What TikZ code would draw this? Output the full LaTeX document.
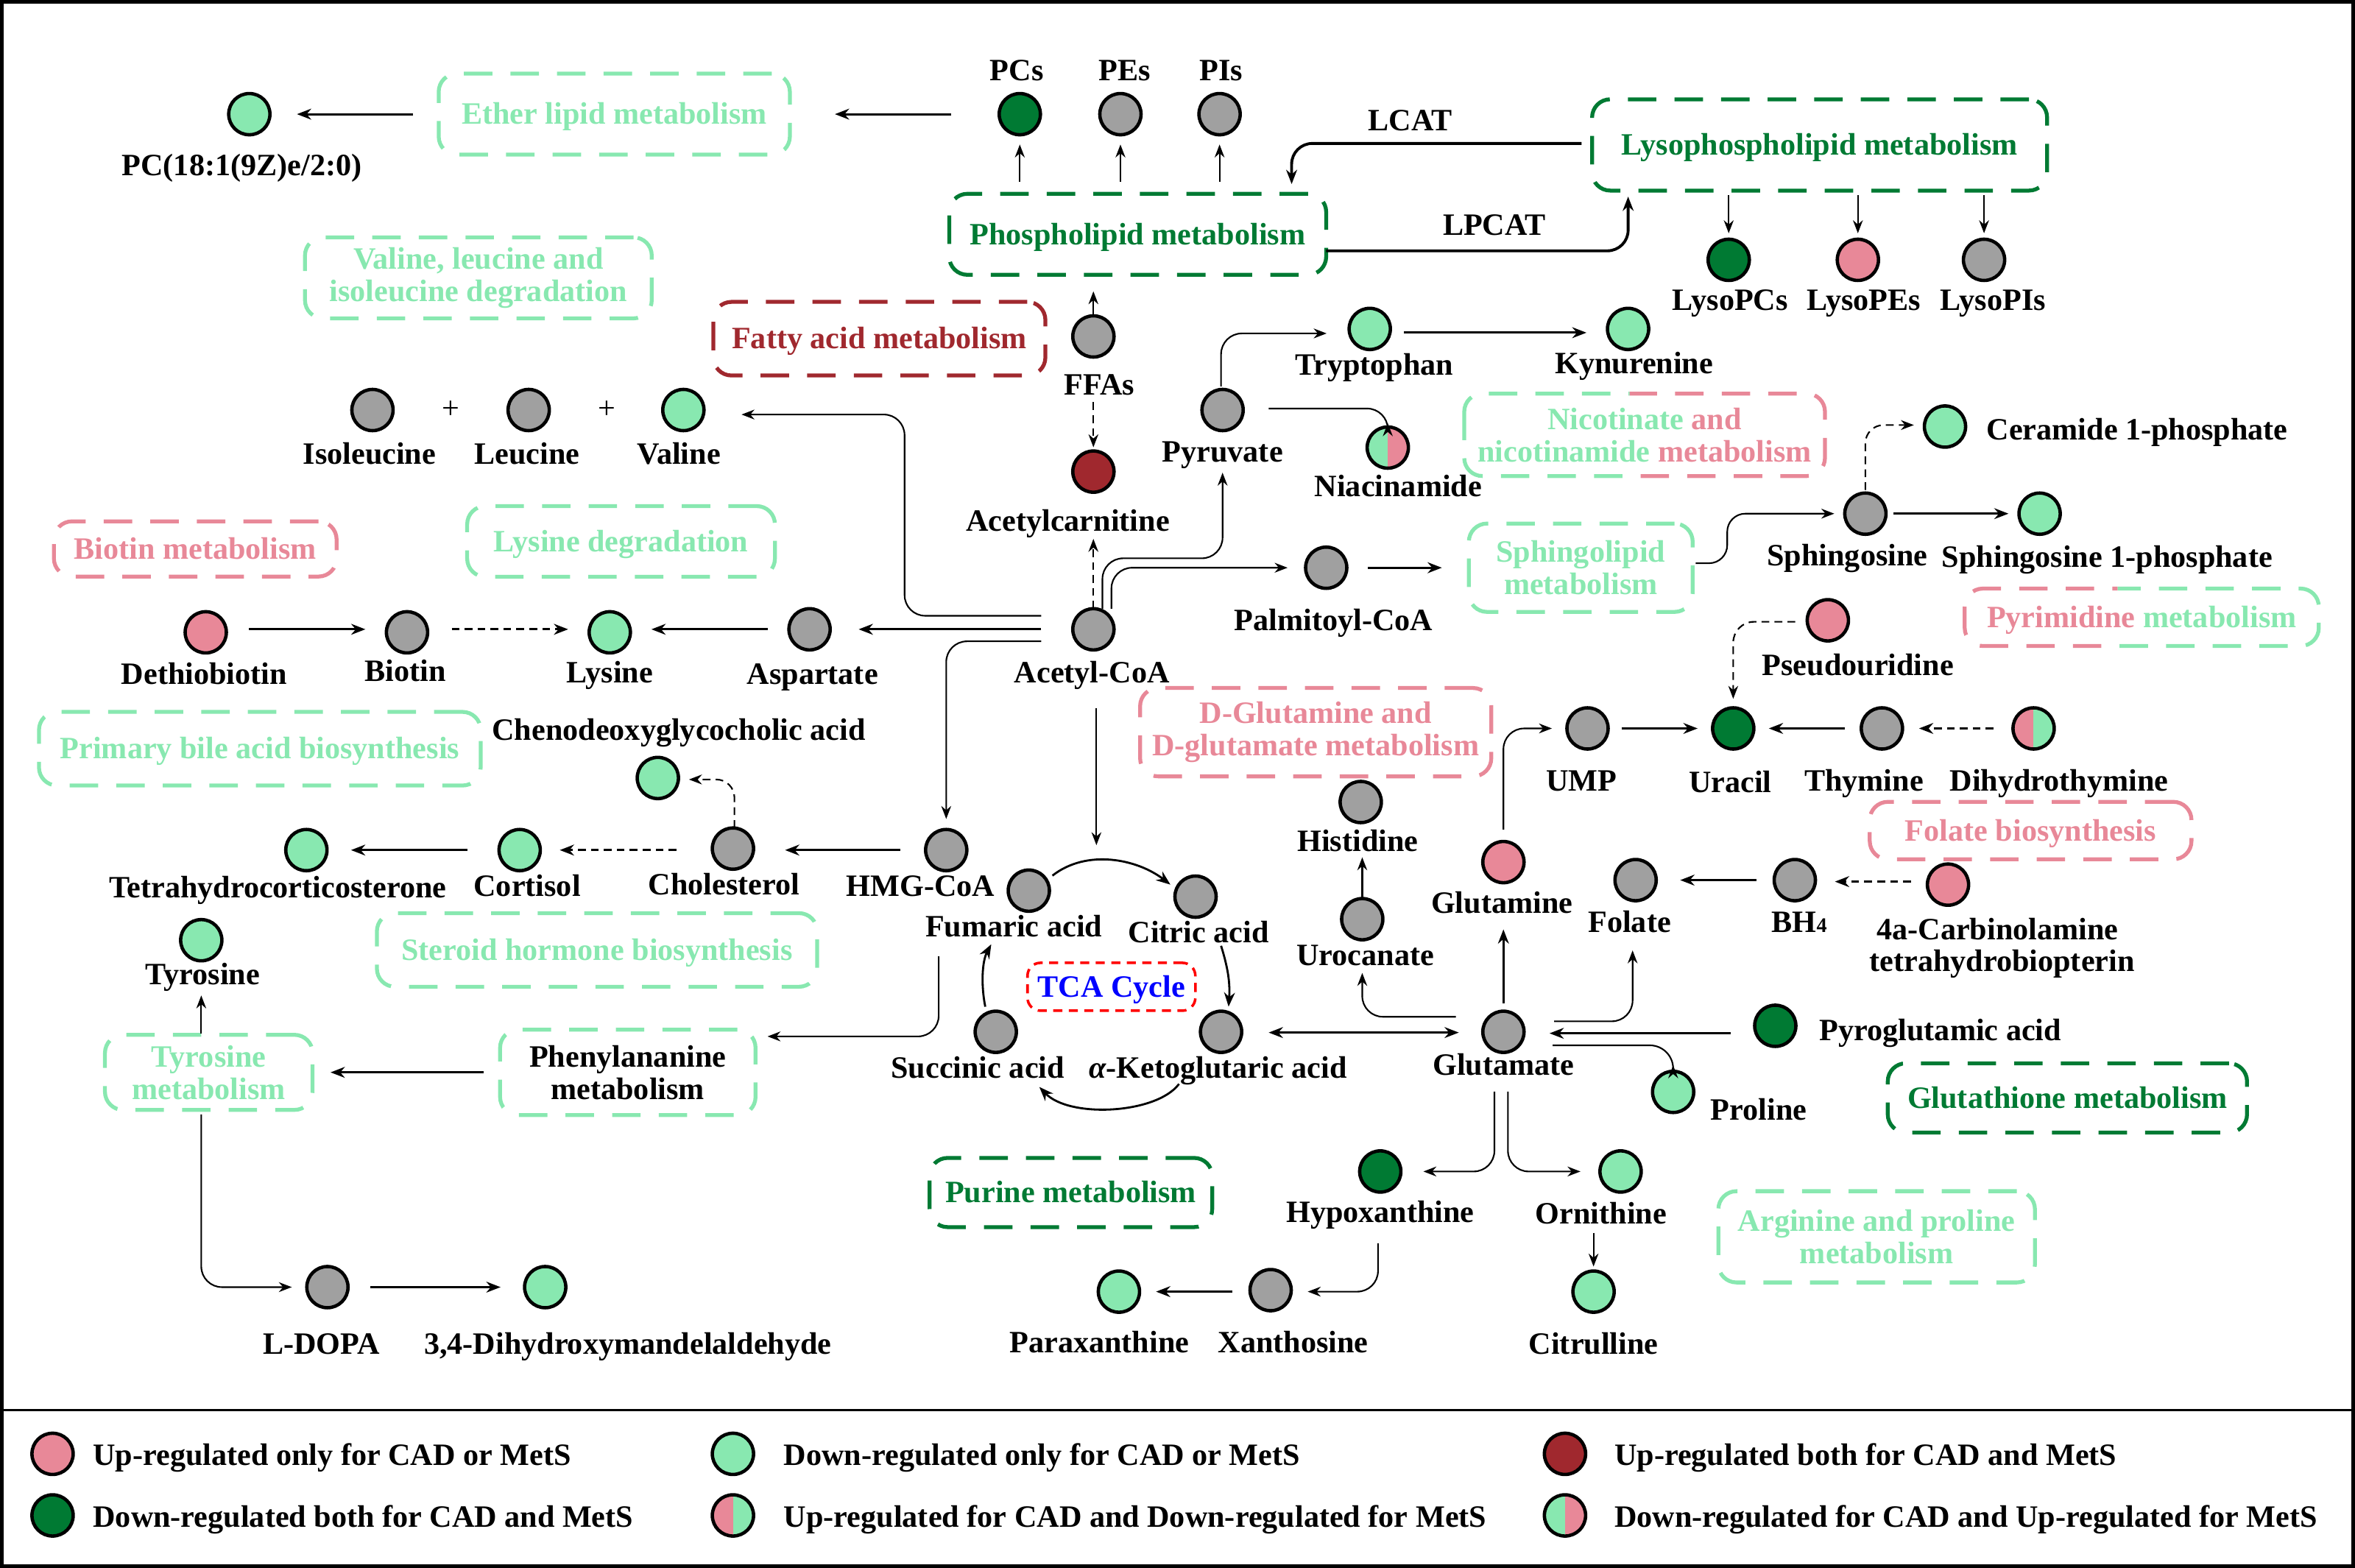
\documentclass[tikz,border=0pt]{standalone}
\usepackage{fontspec}
\setmainfont{Liberation Serif}
\usetikzlibrary{arrows.meta,calc}
\definecolor{lg}{RGB}{136,232,176}
\definecolor{dg}{RGB}{0,122,51}
\definecolor{pk}{RGB}{232,136,152}
\definecolor{dr}{RGB}{160,40,46}
\definecolor{gy}{RGB}{160,160,160}
\definecolor{tcared}{RGB}{255,0,0}
\definecolor{tcablue}{RGB}{0,0,255}
\begin{document}
\begin{tikzpicture}[x=0.0204cm, y=-0.0204cm,
  every node/.style={font=\fontsize{12}{12.5}\selectfont\bfseries},
  met/.style={circle, draw=black, line width=1.3pt, minimum size=0.56cm, inner sep=0pt, outer sep=0pt, fill=#1},
  half/.style 2 args={circle, draw=black, line width=1.3pt, minimum size=0.56cm, inner sep=0pt, outer sep=0pt, fill=#2,
     path picture={\fill[#1] (path picture bounding box.south west) rectangle (path picture bounding box.north);}},
  lab/.style={inner sep=0pt, outer sep=0pt, text height=7.9pt, text depth=0pt},
  bx/.style={draw=#1, text=#1, line width=1.5pt, dash pattern=on 11pt off 7pt, rounded corners=7pt, inner sep=0pt, outer sep=0pt, align=center},
  bxone/.style={bx=#1, text height=7.9pt, text depth=0pt},
  bxt/.style={inner sep=0pt, outer sep=0pt, align=center},
  bline/.style={line width=1.5pt, dash pattern=on 11pt off 7pt, rounded corners=7pt},
  tcabox/.style={draw=tcared, text=tcablue, line width=1pt, dash pattern=on 3.5pt off 2.5pt, rounded corners=5pt, inner sep=0pt, outer sep=0pt, text height=7.9pt, text depth=0pt},
  ar/.style={-{Stealth[length=5.5pt,width=4.2pt]}, line width=0.85pt},
  tar/.style={-{Stealth[length=5pt,width=3.8pt]}, line width=0.6pt},
  arc/.style={-{Stealth[length=5.5pt,width=4.2pt]}, line width=0.8pt},
  dsh/.style={dash pattern=on 3pt off 2pt}
]
\useasboundingbox (0,0) rectangle (1568,1044);
\draw[line width=1.4pt] (1.2,1.2) rectangle (1566.8,1042.8);
\draw[line width=0.9pt] (0,939) -- (1568,939);

% ---------- metabolite circles ----------
\node[met=lg] (pc18) at (166,76) {};
\node[met=dg] (pcs) at (679,76) {};
\node[met=gy] (pes) at (746,76) {};
\node[met=gy] (pis) at (812,76) {};
\node[met=dg] (lpc) at (1151,173) {};
\node[met=pk] (lpe) at (1237,173) {};
\node[met=gy] (lpi) at (1321,173) {};
\node[met=gy] (ffa) at (728,224) {};
\node[met=dr] (acar) at (728,314) {};
\node[met=gy] (ile) at (248,273) {};
\node[met=gy] (leu) at (352,273) {};
\node[met=lg] (val) at (455,273) {};
\node[met=lg] (trp) at (912,219) {};
\node[met=lg] (kyn) at (1084,219) {};
\node[met=gy] (pyr) at (814,273) {};
\node[half={lg}{pk}] (nia) at (924,298) {};
\node[met=lg] (cer) at (1295,284) {};
\node[met=gy] (sph) at (1242,342) {};
\node[met=lg] (s1p) at (1358,342) {};
\node[met=gy] (pal) at (883,378) {};
\node[met=pk] (dtb) at (137,421) {};
\node[met=gy] (bio) at (271,421) {};
\node[met=lg] (lys) at (406,421) {};
\node[met=gy] (asp) at (539,419) {};
\node[met=gy] (aco) at (728,419) {};
\node[met=pk] (psu) at (1217,413) {};
\node[met=gy] (ump) at (1057,485) {};
\node[met=dg] (ura) at (1154,485) {};
\node[met=gy] (thy) at (1253,485) {};
\node[half={pk}{lg}] (dht) at (1354,485) {};
\node[met=lg] (chg) at (438,518) {};
\node[met=gy] (his) at (906,534) {};
\node[met=lg] (tet) at (204,566) {};
\node[met=lg] (cor) at (346,566) {};
\node[met=gy] (cho) at (488,565) {};
\node[met=gy] (hmg) at (630,566) {};
\node[met=pk] (glm) at (1001,574) {};
\node[met=gy] (fol) at (1089,586) {};
\node[met=gy] (bh4) at (1195,586) {};
\node[met=pk] (carb) at (1297,589) {};
\node[met=gy] (fum) at (685,593) {};
\node[met=gy] (cit) at (796,597) {};
\node[met=gy] (uro) at (907,612) {};
\node[met=lg] (tyr) at (134,626) {};
\node[met=gy] (suc) at (663,687) {};
\node[met=gy] (akg) at (813,687) {};
\node[met=gy] (glu) at (1001,687) {};
\node[met=dg] (pgl) at (1182,683) {};
\node[met=lg] (pro) at (1114,727) {};
\node[met=dg] (hyp) at (919,780) {};
\node[met=lg] (orn) at (1079,780) {};
\node[met=gy] (dopa) at (218,857) {};
\node[met=lg] (dhm) at (363,857) {};
\node[met=gy] (xan) at (846,859) {};
\node[met=lg] (par) at (745,860) {};
\node[met=lg] (ctl) at (1061,860) {};

% ---------- labels ----------
\node[lab] (pc18l) at (161,110) {PC(18:1(9Z)e/2:0)};
\node[lab] (pcsl) at (677,47) {PCs};
\node[lab] (pesl) at (749,47) {PEs};
\node[lab] (pisl) at (813,47) {PIs};
\node[lab] (lpcl) at (1152,200) {LysoPCs};
\node[lab] (lpel) at (1241,200) {LysoPEs};
\node[lab] (lpil) at (1327,200) {LysoPIs};
\node[lab] (lcat) at (939,80) {LCAT};
\node[lab] (lpcat) at (995,150) {LPCAT};
\node[lab] (ffal) at (732,256) {FFAs};
\node[lab] (acarl) at (711,347) {Acetylcarnitine};
\node[lab] (ilel) at (246,302) {Isoleucine};
\node[lab] (leul) at (351,302) {Leucine};
\node[lab] (vall) at (452,302) {Valine};
\node[lab, font=\fontsize{12}{12}\selectfont\mdseries] (plus1) at (300,272) {+};
\node[lab, font=\fontsize{12}{12}\selectfont\mdseries] (plus2) at (404,272) {+};
\node[lab] (trpl) at (915,243) {Tryptophan};
\node[lab] (kynl) at (1088,242) {Kynurenine};
\node[lab] (pyrl) at (814,301) {Pyruvate};
\node[lab] (nial) at (931,324) {Niacinamide};
\node[lab] (cerl) at (1423,286) {Ceramide 1-phosphate};
\node[lab] (sphlab) at (1230,370) {Sphingosine};
\node[lab] (s1pl) at (1403,371) {Sphingosine 1-phosphate};
\node[lab] (pall) at (888,413) {Palmitoyl-CoA};
\node[lab] (dtbl) at (136,449) {Dethiobiotin};
\node[lab] (biol) at (270,447) {Biotin};
\node[lab] (lysl) at (406,448) {Lysine};
\node[lab] (aspl) at (541,449) {Aspartate};
\node[lab] (acol) at (727,448) {Acetyl-CoA};
\node[lab] (psul) at (1237,443) {Pseudouridine};
\node[lab] (umpl) at (1053,520) {UMP};
\node[lab] (ural) at (1152,521) {Uracil};
\node[lab] (thyl) at (1241,520) {Thymine};
\node[lab] (dhtl) at (1371,520) {Dihydrothymine};
\node[lab] (chgl) at (452,486) {Chenodeoxyglycocholic acid};
\node[lab] (hisl) at (904,560) {Histidine};
\node[lab] (tetl) at (185,591) {Tetrahydrocorticosterone};
\node[lab] (corl) at (351,590) {Cortisol};
\node[lab] (chol) at (482,589) {Cholesterol};
\node[lab] (hmgl) at (613,590) {HMG-CoA};
\node[lab] (glml) at (1000,601) {Glutamine};
\node[lab] (foll) at (1085,614) {Folate};
\node[lab] (bh4l) at (1198,614) {BH{\fontsize{8}{8}\selectfont 4}};
\node[lab] (carbla) at (1330,619) {4a-Carbinolamine};
\node[lab] (carblb) at (1333,640) {tetrahydrobiopterin};
\node[lab] (fuml) at (675,617) {Fumaric acid};
\node[lab] (citl) at (798,621) {Citric acid};
\node[lab] (urol) at (909,636) {Urocanate};
\node[lab] (tyrl) at (135,649) {Tyrosine};
\node[lab] (sucl) at (651,711) {Succinic acid};
\node[lab] (akgl) at (811,711) {{\itshape α}-Ketoglutaric acid};
\node[lab] (glul) at (1001,709) {Glutamate};
\node[lab] (pgll) at (1292,686) {Pyroglutamic acid};
\node[lab] (prol) at (1171,739) {Proline};
\node[lab] (hypl) at (919,807) {Hypoxanthine};
\node[lab] (ornl) at (1066,808) {Ornithine};
\node[lab] (dopal) at (214,895) {L-DOPA};
\node[lab] (dhml) at (418,895) {3,4-Dihydroxymandelaldehyde};
\node[lab] (parl) at (732,894) {Paraxanthine};
\node[lab] (xanl) at (861,894) {Xanthosine};
\node[lab] (ctll) at (1061,895) {Citrulline};

% ---------- pathway boxes ----------
\node[bxone=lg, minimum width=4.77cm, minimum height=1.10cm] (ether) at (409,76) {Ether lipid metabolism};
\node[bx=lg, minimum width=4.71cm, minimum height=1.10cm] (vli) at (318.5,185) {Valine, leucine and\\isoleucine degradation};
\node[bxone=dr, minimum width=4.51cm, minimum height=1.0cm] (fatty) at (585.5,225.5) {Fatty acid metabolism};
\node[bxone=dg, minimum width=5.12cm, minimum height=1.10cm] (phos) at (757.5,156) {Phospholipid metabolism};
\node[bxone=dg, minimum width=6.18cm, minimum height=1.24cm] (lyso) at (1211.5,96.5) {Lysophospholipid metabolism};
\node[bxt, minimum width=4.90cm, minimum height=1.12cm] (nico) at (1095,289.5) {\textcolor{lg}{Nicotinate} \textcolor{pk}{and}\\\textcolor{lg}{nicotinamide} \textcolor{pk}{metabolism}};
\node[bxone=lg, minimum width=4.18cm, minimum height=0.96cm] (lysdeg) at (413.5,360.5) {Lysine degradation};
\node[bxone=pk, minimum width=3.84cm, minimum height=0.75cm] (biot) at (130,365.5) {Biotin metabolism};
\node[bx=lg, minimum width=3.04cm, minimum height=1.20cm] (sphl) at (1052.5,378) {Sphingolipid\\metabolism};
\node[bxt, text height=7.9pt, text depth=0pt, minimum width=4.81cm, minimum height=0.78cm] (pyrim) at (1426,411) {\textcolor{pk}{Pyrimidine} \textcolor{lg}{metabolism}};
\node[bx=pk, minimum width=4.77cm, minimum height=1.20cm] (dglu) at (876,487.5) {D-Glutamine and\\D-glutamate metabolism};
\node[bxone=lg, minimum width=6.00cm, minimum height=1.00cm] (pbile) at (173,498.5) {Primary bile acid biosynthesis};
\node[bxone=lg, minimum width=5.98cm, minimum height=1.00cm] (steroid) at (397.5,632.5) {Steroid hormone biosynthesis};
\node[bxone=pk, minimum width=4.37cm, minimum height=0.78cm] (folbio) at (1352,553) {Folate biosynthesis};
\node[tcabox, minimum width=2.28cm, minimum height=0.65cm] (tca) at (740,657) {TCA Cycle};
\node[bx=lg, minimum width=2.82cm, minimum height=1.02cm] (tyrmet) at (139,714) {Tyrosine\\metabolism};
\node[bx=lg, text=black, minimum width=3.47cm, minimum height=1.16cm] (phe) at (418,714) {Phenylananine\\metabolism};
\node[bxone=dg, minimum width=3.84cm, minimum height=0.94cm] (purine) at (713,794) {Purine metabolism};
\node[bxone=dg, minimum width=4.88cm, minimum height=0.94cm] (gsh) at (1376.5,731) {Glutathione metabolism};
\node[bx=lg, minimum width=4.30cm, minimum height=1.24cm] (arg) at (1249.5,823.5) {Arginine and proline\\metabolism};

% two-coloured borders
\begin{scope}
\clip (960,250) rectangle (1085,330);
\draw[bline, lg] (nico.north west) rectangle (nico.south east);
\end{scope}
\begin{scope}
\clip (1085,250) rectangle (1230,330);
\draw[bline, pk] (nico.north west) rectangle (nico.south east);
\end{scope}
\begin{scope}
\clip (1295,380) rectangle (1410,445);
\draw[bline, pk] (pyrim.north west) rectangle (pyrim.south east);
\end{scope}
\begin{scope}
\clip (1410,380) rectangle (1560,445);
\draw[bline, lg] (pyrim.north west) rectangle (pyrim.south east);
\end{scope}

% ---------- connectors ----------
\draw[ar] ($(ether.west)+(-17,0)$) -- ($(pc18.east)+(18,0)$);
\draw[ar] ($(pcs.west)+(-32,0)$) -- ($(ether.east)+(30,0)$);
\foreach \n in {pcs,pes,pis} \draw[tar] ($(\n|-phos.north)+(0,-8)$) -- ($(\n.south)+(0,6.5)$);
\draw[ar, line width=1.1pt, rounded corners=8pt] ($(lyso.west)+(-7,-1)$) -| ($(phos.north east)+(-23,-6.5)$);
\draw[ar, line width=1.1pt, rounded corners=8pt] ($(phos.east)+(0,11)$) -| ($(lyso.south west)+(24,4)$);
\foreach \n in {lpc,lpe,lpi} \draw[tar] ($(\n|-lyso.south)+(0,3)$) -- ($(\n.north)+(0,-4)$);
\draw[tar] (ffa.north) -- ($(phos.south-|ffa)+(0,11)$);
\draw[tar,dsh] ($(ffa|-ffal.south)+(0,5)$) -- ($(acar.north)+(0,-2.5)$);

% Acetyl-CoA branches
\draw[tar, rounded corners=8pt] ($(aco.west)+(-21,-9)$) -- ++(-91,0) |- ($(val.east)+(25,3)$);
\draw[ar] ($(aco.west)+(-21,0)$) -- ($(asp.east)+(19,0)$);
\draw[tar, rounded corners=8pt] ($(aco.west)+(-21,8)$) -| ($(hmg.north)+(0,-7)$);
\draw[tar,dsh] (aco.north) -- ($(aco.north|-acarl.south)+(0,5)$);
\draw[tar, rounded corners=8pt] ($(aco.north)+(6,0)$) |- ($(pyr.south)+(0,85)$) -- ($(pyr.south)+(0,28)$);
\draw[tar, rounded corners=8pt] ($(aco.north)+(12,0)$) |- ($(pal.west)+(-12,0)$);
\draw[tar] ($(aco.south)+(2,39)$) -- ($(aco.south)+(2,130)$);

\draw[tar, rounded corners=8pt] ($(pyr.north)+(-1,-2)$) |- ($(trp.west)+(-15,3)$);
\draw[ar] ($(trp.east)+(9,2.5)$) -- ($(kyn.west)+(-14,2.5)$);
\draw[tar, rounded corners=8pt] ($(pyr.east)+(17,-1)$) -| ($(nia.north)+(0,-2.5)$);
\draw[ar] ($(pal.east)+(14,0)$) -- ($(sphl.west)+(-18,0)$);
\draw[tar, rounded corners=7pt] ($(sphl.east)+(2,-3)$) -- ++(21,0) |- ($(sph.west)+(-7,0)$);
\draw[ar] ($(sph.east)+(5,0)$) -- ($(s1p.west)+(-7,0)$);
\draw[tar,dsh, rounded corners=7pt] ($(sph.north)+(0,-2)$) |- ($(cer.west)+(-7,-1)$);

\draw[ar] ($(dtb.east)+(15,-2)$) -- ($(bio.west)+(-14,-2)$);
\draw[ar,dsh] ($(bio.east)+(16,-2)$) -- ($(lys.west)+(-14,-2)$);
\draw[ar] ($(asp.west)+(-14,0)$) -- ($(lys.east)+(14,-2)$);

\draw[tar,dsh, rounded corners=7pt] ($(cho.north)+(1,0)$) |- ($(chg.east)+(7,1)$);
\draw[ar] ($(hmg.west)+(-17,0)$) -- ($(cho.east)+(21,1)$);
\draw[ar,dsh] ($(cho.west)+(-24,1)$) -- ($(cor.east)+(13,0)$);
\draw[ar] ($(cor.west)+(-21,0)$) -- ($(tet.east)+(16,0)$);
\draw[tar] ($(tyrmet.north-|tyr)+(0,-1)$) -- ($(tyr|-tyrl.south)+(0,7)$);
\draw[ar] ($(phe.west)+(-11,0)$) -- ($(tyrmet.east)+(12,0)$);
\draw[tar, rounded corners=8pt] ($(hmg.south)+(-5,57)$) |- ($(phe.north east)+(8,4.5)$);
\draw[tar, rounded corners=8pt] ($(tyrmet.south-|tyr)+(0,3)$) |- ($(dopa.west)+(-10,0)$);
\draw[ar] ($(dopa.east)+(15,0)$) -- ($(dhm.west)+(-16,0)$);

% TCA cycle
\draw[arc] ($(fum.east)+(2,-10)$) .. controls ($(fum.east)+(25,-28)$) and ($(cit.west)+(-25,-25)$) .. ($(cit.west)+(-3,-8)$);
\draw[arc] ($(cit.south)+(17,19)$) .. controls ($(cit.south)+(22,35)$) and ($(akg.north)+(6,-18)$) .. ($(akg.north)+(5,-3)$);
\draw[arc] ($(akg.south)+(-28,21)$) .. controls ($(akg.south)+(-43,41)$) and ($(suc.south)+(49,44)$) .. ($(suc.south)+(29,23)$);
\draw[arc] ($(suc.north)+(-7,-3)$) .. controls ($(suc.north)+(-10,-18)$) and ($(fum.south)+(-31,33)$) .. ($(fum.south)+(-25,22)$);

% Glutamate hub
\draw[{Stealth[length=5.5pt,width=4.2pt]}-{Stealth[length=5.5pt,width=4.2pt]}, line width=0.85pt] ($(akg.east)+(18,0.5)$) -- ($(glu.west)+(-16,0.5)$);
\draw[tar, rounded corners=8pt] ($(glu.west)+(-18,-10)$) -| ($(urol.south)+(-2,5)$);
\draw[tar] ($(uro.north)+(0,-1)$) -- ($(uro|-hisl.south)+(0,4)$);
\draw[ar] ($(glu.north)+(0,-5)$) -- ($(glu|-glml.south)+(0,11)$);
\draw[tar, rounded corners=8pt] ($(glm.north)+(0,-8)$) |- ($(ump.west)+(-10,0)$);
\draw[tar, rounded corners=8pt] ($(glu.east)+(20,-7)$) -| ($(foll.south)+(2,12)$);
\draw[ar] ($(bh4.west)+(-12,0)$) -- ($(fol.east)+(16,0)$);
\draw[ar,dsh] ($(carb.west|-bh4)+(-11,1)$) -- ($(bh4.east)+(13,1)$);
\draw[ar] ($(pgl.west)+(-16,5)$) -- ($(glu.east)+(17,1)$);
\draw[tar, rounded corners=9pt] ($(glu.east)+(19,9)$) -| ($(pro.north)+(0,-4)$);
\draw[tar, rounded corners=8pt] ($(glul.south)+(-6,11)$) |- ($(hyp.east)+(15,0)$);
\draw[tar, rounded corners=8pt] ($(glul.south)+(3,11)$) |- ($(orn.west)+(-13,0)$);
\draw[tar] ($(ctl|-ornl.south)+(0,6)$) -- ($(ctl.north)+(0,-3)$);
\draw[tar, rounded corners=8pt] ($(hypl.south)+(-1.5,14)$) |- ($(xan.east)+(11,1)$);
\draw[ar] ($(xan.west)+(-12,1)$) -- ($(par.east)+(11,0)$);

% pyrimidine
\draw[ar] ($(ump.east)+(9,0)$) -- ($(ura.west)+(-10,0)$);
\draw[ar] ($(thy.west)+(-11,0)$) -- ($(ura.east)+(10,0)$);
\draw[ar,dsh] ($(dht.west)+(-13,0)$) -- ($(thy.east)+(11,0)$);
\draw[tar,dsh, rounded corners=8pt] ($(psu.west)+(-8,1)$) -| ($(ura.north)+(0,-6)$);

% ---------- legend ----------
\node[met=pk] (lga) at (35,968) {};
\node[lab, anchor=west] (lgat) at (62,969) {Up-regulated only for CAD or MetS};
\node[met=lg] (lgb) at (488,968) {};
\node[lab, anchor=west] (lgbt) at (522,969) {Down-regulated only for CAD or MetS};
\node[met=dr] (lgc) at (1042,968) {};
\node[lab, anchor=west] (lgct) at (1075,969) {Up-regulated both for CAD and MetS};
\node[met=dg] (lgd) at (35,1009) {};
\node[lab, anchor=west] (lgdt) at (62,1010) {Down-regulated both for CAD and MetS};
\node[half={pk}{lg}] (lge) at (488,1009) {};
\node[lab, anchor=west] (lget) at (522,1010) {Up-regulated for CAD and Down-regulated for MetS};
\node[half={lg}{pk}] (lgf) at (1042,1009) {};
\node[lab, anchor=west] (lgft) at (1075,1010) {Down-regulated for CAD and Up-regulated for MetS};
\end{tikzpicture}
\end{document}
